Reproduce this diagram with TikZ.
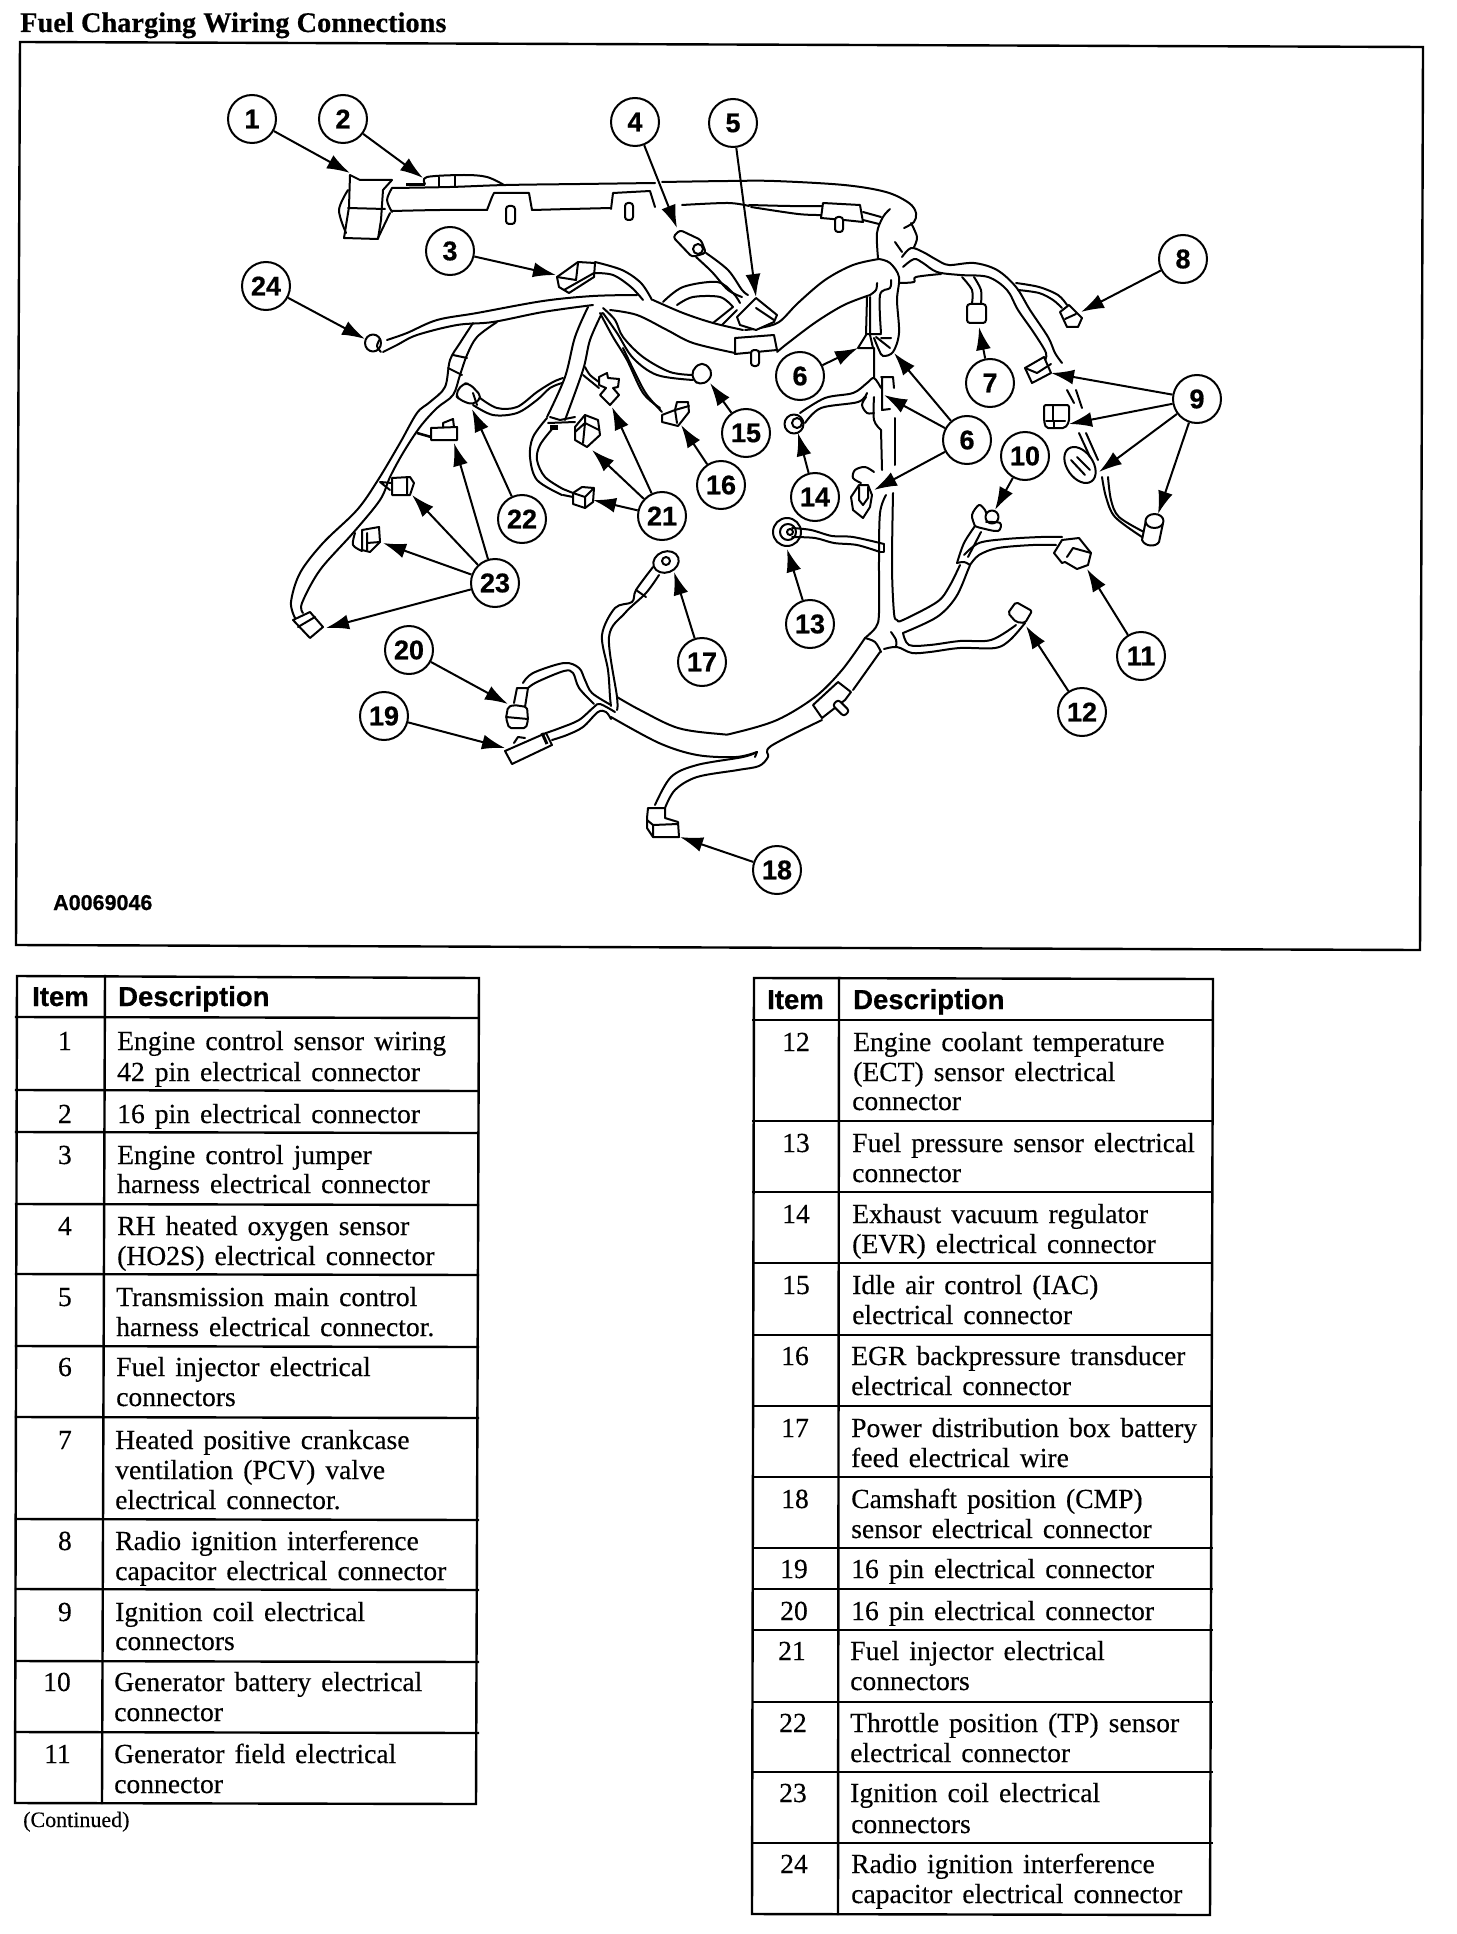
\documentclass[tikz,border=0pt]{standalone}
\usepackage{fontspec}
\usetikzlibrary{arrows.meta}
\setmainfont{Liberation Serif}
\newfontfamily\tabfont{Liberation Serif}[WordSpace=1.45,FakeBold=0.3]
\newfontfamily\titlefont{Liberation Serif}[BoldFeatures={FakeBold=0.4}]
\newfontfamily\headfont{Liberation Sans}[BoldFeatures={FakeBold=0.6}]
\newcounter{tx}
\tikzset{
  wl/.style={line width=2pt,line join=round,line cap=round},
  arr/.style={line width=2pt,-{Latex[length=23pt,width=15pt]}},
  callout/.style={circle,draw,line width=2pt,fill=white,minimum size=48pt,inner sep=0pt},
  calltext/.style={inner sep=0pt,font=\fontsize{27}{27}\selectfont\headfont\bfseries},
  tabtext/.style={anchor=base west,inner sep=0pt,font=\fontsize{27.6}{27.6}\selectfont\tabfont},
  tabnum/.style={anchor=base east,inner sep=0pt,font=\fontsize{27.6}{27.6}\selectfont\tabfont},
  headtext/.style={anchor=base west,inner sep=0pt,font=\fontsize{27.5}{27.5}\selectfont\headfont\bfseries},
  rule/.style={line width=2.4pt,line cap=rect}
}
\newcommand\lin[1]{\draw[wl] plot[smooth,tension=.55] coordinates {#1};}
\newcommand\tl[3]{\stepcounter{tx}\node[tabtext] (tx\arabic{tx}) at (#1,#2) {#3};}
\newcommand\tn[3]{\stepcounter{tx}\node[tabnum] (tx\arabic{tx}) at (#1,#2) {#3};}
\newcommand\hl[4]{\stepcounter{tx}\node[headtext] (tx\arabic{tx}) at (#1,#2) {#3};}
\newcommand\pin[4]{\draw[wl,fill=white,rounded corners=3pt] (#1,#2) rectangle (#3,#4);}
\newcommand\co[3]{\node[callout] (#1) at (#2,#3) {};}
\begin{document}
\begin{tikzpicture}[x=1pt,y=-1pt]
\fill[white] (0,0) rectangle (1456,1934);
\useasboundingbox (0,0) rectangle (1456,1934);
% title and frame
\node[anchor=base west,inner sep=0pt,font=\fontsize{28.4}{28.4}\selectfont\titlefont\bfseries] (title) at (20,32) {Fuel Charging Wiring Connections};
\draw[line width=2.4pt,line join=miter] (20,42) -- (1423,47) -- (1420,950) -- (16,945) -- cycle;
\node[anchor=base west,inner sep=0pt,font=\fontsize{21.5}{21.5}\selectfont\headfont\bfseries] (fig) at (53,910) {A0069046};

% --- top harness
\lin{(392,188) (450,187) (506,185) (580,184) (655,183)}
\lin{(662,182) (728,181) (774,181) (844,185) (886,192) (909,203) (916,213) (914,222) (904,228)}
\lin{(392,211) (440,210) (487,210)}
\lin{(532,210) (570,209) (611,208)}
\lin{(682,205) (728,203) (749,206)}
\lin{(751,207) (798,214) (821,215)}
\lin{(749,205) (790,206) (823,206)}
\lin{(863,212) (881,217)}
\lin{(863,220) (879,224)}
\lin{(890,209) (883,217) (877,233) (878,258)}
\lin{(911,223) (917,237) (914,247)}
\lin{(895,242) (902,252)}
% connector 1
\draw[wl,fill=white] (350,175) -- (360,180) -- (392,180) -- (383,190) -- (381,220) -- (378,239) -- (344,238) -- (349,207) -- cycle;
\lin{(348,190) (339,210) (346,233)}
\draw[wl] (348,208) -- (385,209);
\lin{(392,188) (387,200) (392,212)}
\draw[wl] (390,213) -- (378,238);
% connector 2
\lin{(425,184) (427,177) (464,175) (487,177) (504,185)}
\draw[line width=3pt] (406,185) -- (425,185);
\draw[wl] (439,177) -- (439,187) (455,176) -- (455,186);
% clips on top harness
\draw[wl,fill=white] (487,210) -- (492,197) -- (494,193) -- (529,193) -- (532,210);
\pin{506}{206}{515}{224}
\draw[wl,fill=white] (611,209) -- (613,193) -- (650,191) -- (655,207);
\pin{625}{203}{633}{220}
\draw[wl,fill=white] (821,218) -- (823,203) -- (860,205) -- (863,222) -- (844,220) -- cycle;
\pin{835}{217}{843}{232}

% --- second harness (middle)
\lin{(879,259) (853,265) (825,280) (798,303) (779,322) (760,328) (745,330)}
\lin{(879,259) (890,263) (899,277) (897,300) (899,333) (893,352) (883,356) (879,350) (874,338)}
\lin{(870,295) (844,305) (816,322) (788,343) (777,352)}
\lin{(877,283) (876,290) (870,295)}
\lin{(891,280) (890,288) (880,295) (881,333)}
% connector 6 top
\draw[wl,fill=white] (867,297) -- (866,335) -- (858,348) -- (873,348) -- (870,335) -- (870,297);
\draw[wl] (866,334) -- (881,334) (876,337) -- (890,348) (881,338) -- (891,338) (874,348) -- (874,378);
% clip
\draw[wl,fill=white] (735,338) -- (774,335) -- (777,350) -- (735,354) -- cycle;
\pin{751}{350}{759}{366}
% left harness
\lin{(653,300) (683,313) (713,323) (743,330)}
\lin{(610,310) (637,315) (667,330) (693,343) (735,353)}
\lin{(637,295) (593,296) (543,301) (477,313) (437,320) (407,333) (387,340)}
\lin{(593,305) (543,312) (493,322) (457,325) (417,335) (397,345) (383,352)}
\draw[wl,fill=white] (373,343) ellipse (8 and 8.5);
\lin{(380,339) (377,346) (381,352)}
% coil branch
\lin{(473,323) (460,343) (450,360) (445,387) (430,402) (417,413) (400,443) (378,480) (357,510) (323,543) (300,573) (291,602) (295,618)}
\lin{(497,322) (477,337) (467,355) (460,375) (453,395) (437,408) (420,427) (403,453) (390,477) (380,500) (353,533) (320,570) (302,603) (303,613)}
\draw[wl] (453,355) -- (467,358) (448,368) -- (462,375);
% connector 23 bottom
\draw[wl,fill=white] (293,620) -- (310,612) -- (323,627) -- (310,638) -- cycle;
\draw[wl] (298,627) -- (315,617);
% 23b
\draw[wl,fill=white] (431,428) -- (457,427) -- (457,440) -- (431,440) -- cycle;
\draw[wl] (443,427) -- (443,423) -- (453,419) -- (454,427);
\draw[line width=2.6pt] (417,433) -- (431,437);
% 23c
\draw[wl,fill=white] (392,478) -- (410,477) -- (414,483) -- (410,495) -- (392,495) -- cycle;
\draw[wl] (407,477) -- (407,494) (380,482) -- (392,483) (380,482) -- (390,490);
% 23d
\draw[wl,fill=white] (362,530) -- (379,527) -- (380,542) -- (370,552) -- (362,550) -- cycle;
\lin{(355,533) (353,545) (362,551)}
\draw[wl] (367,533) -- (367,550) (380,542) -- (367,543);
% connector 22
\draw[wl,fill=white,rounded corners=5pt] (455,395) -- (463,383) -- (470,384) -- (482,397) -- (473,405) -- (460,400) -- cycle;
\lin{(480,398) (497,408) (517,407) (537,392) (553,382) (563,378)}
\lin{(473,405) (493,415) (517,413) (537,400) (550,388) (562,383)}
\draw[wl] (473,393) -- (477,405);
% branch down to 21
\lin{(588,307) (575,337) (565,377) (547,417)}
\lin{(602,313) (590,340) (583,370) (565,420)}
\lin{(547,418) (533,437) (530,457) (537,480) (562,495)}
\lin{(553,428) (540,445) (537,460) (545,477) (563,489)}
\draw[wl] (550,417) -- (560,420) -- (575,417) (548,423) -- (575,422);
\fill (550,425) rectangle (558,430);
% 21b
\draw[wl,fill=white] (575,427) -- (585,415) -- (598,420) -- (600,435) -- (587,447) -- (575,440) -- cycle;
\draw[wl] (575,432) -- (585,423) -- (599,430) (585,415) -- (585,423) -- (583,443);
% 21c
\draw[wl,fill=white] (573,493) -- (582,487) -- (594,488) -- (593,502) -- (585,508) -- (573,504) -- cycle;
\draw[wl] (573,493) -- (585,497) -- (594,488) (585,497) -- (585,508) (563,489) -- (573,493) (563,495) -- (573,497);
% 21a
\draw[wl,fill=white] (599,377) -- (607,373) -- (608,378) -- (619,379) -- (618,387) -- (613,388) -- (619,395) -- (610,405) -- (600,395) -- (606,388) -- (599,385) -- cycle;
\lin{(585,367) (590,375) (599,382)}
\lin{(583,375) (599,388)}
% to 15 and 16
\lin{(603,308) (615,320) (623,337) (643,357) (670,372) (693,375)}
\lin{(603,313) (617,333) (633,358) (657,375) (693,380)}
\lin{(600,313) (613,337) (627,360) (643,393) (660,408)}
\lin{(623,348) (637,377) (647,395) (662,412)}
\draw[wl,fill=white,rounded corners=5pt] (692,370) -- (702,362) -- (712,370) -- (710,380) -- (700,385) -- (693,380) -- cycle;
\draw[wl,fill=white] (662,415) -- (675,410) -- (677,402) -- (688,402) -- (689,412) -- (678,426) -- (662,422) -- cycle;
\draw[wl] (677,423) -- (675,410) -- (689,406);
% connector 3
\draw[wl,fill=white] (557,277) -- (578,262) -- (595,263) -- (594,277) -- (569,293) -- (559,287) -- cycle;
\draw[wl] (578,263) -- (576,280) -- (557,277) (564,290) -- (594,273);
\lin{(595,262) (622,270) (641,283) (652,300)}
\lin{(594,273) (613,275) (631,287) (643,300)}
% arcs to 5
\lin{(663,302) (683,287) (717,282) (733,293) (740,303)}
\lin{(677,305) (693,297) (720,297) (733,307)}
\draw[wl] (713,323) -- (733,307) (722,325) -- (737,310);
\draw[wl,fill=white] (737,317) -- (756,298) -- (777,315) -- (774,322) -- (756,330) -- (740,325) -- cycle;
\draw[wl] (756,308) -- (774,320);
% connector 4
\draw[wl,fill=white,rounded corners=3pt] (673,237) -- (680,230) -- (701,240) -- (706,253) -- (692,257) -- cycle;
\draw[wl] (698,249) circle (5);
\lin{(706,253) (728,270) (742,290) (748,295)}
\lin{(696,257) (712,272) (728,290) (742,297)}

% --- right upper wires
\lin{(902,257) (911,248) (923,252) (937,260) (949,265) (974,263) (997,270) (1016,287) (1030,310) (1048,337) (1055,353) (1062,363)}
\lin{(903,267) (914,259) (923,263) (937,272) (960,275) (988,277) (1007,290) (1018,310) (1034,333) (1046,353) (1044,362)}
\lin{(900,283) (914,282) (916,277) (941,274)}
\lin{(962,277) (972,290) (972,303)}
\lin{(974,277) (981,290) (981,303)}
\draw[wl,fill=white,rounded corners=3pt] (967,304) rectangle (986,323);
\lin{(1016,283) (1039,287) (1058,295) (1067,305)}
\lin{(1018,290) (1039,293) (1053,300) (1062,308)}
\draw[wl,fill=white] (1060,312) -- (1069,305) -- (1082,318) -- (1078,327) -- (1067,327) -- cycle;
\draw[wl] (1065,319) -- (1076,314);
% 9a
\draw[wl,fill=white] (1025,368) -- (1044,357) -- (1051,373) -- (1032,383) -- cycle;
\draw[wl] (1025,368) -- (1037,373) -- (1051,364);
\draw[wl] (1067,390) -- (1074,403) (1076,390) -- (1082,408);
% 9b
\draw[wl,fill=white,rounded corners=2pt] (1044,405) -- (1069,405) -- (1069,422) -- (1065,428) -- (1046,428) -- (1044,421) -- cycle;
\draw[wl] (1053,406) -- (1053,421) (1046,421) -- (1065,421) (1054,421) -- (1054,428);
% 9c
\draw[wl,fill=white,rotate around={35:(1080,465)}] (1080,465) ellipse (13 and 20);
\draw[wl] (1071,460) -- (1085,475) (1077,457) -- (1090,470) (1079,433) -- (1090,457) (1086,433) -- (1098,460);
% 9d
\lin{(1102,477) (1106,497) (1115,517) (1142,537)}
\lin{(1108,477) (1111,500) (1119,517) (1144,532)}
\draw[wl,fill=white] (1146,520) -- (1142,540) .. controls (1145,547) and (1156,547) .. (1159,542) -- (1163,523) -- cycle;
\draw[wl,fill=white] (1154.5,521) ellipse (9 and 7);

% --- vertical trunk
\lin{(881,430) (882,470)}
\lin{(886,495) (880,513) (879,560) (879,613) (876,627) (865,638)}
\draw[wl] (895,418) -- (895,465);
\lin{(893,493) (892,567) (894,613) (897,620) (903,620) (937,602) (949,587) (960,565)}
\draw[wl] (882,378) -- (882,410) -- (890,409) (881,377) -- (893,377) -- (894,388);
% 14
\draw[wl,fill=white] (794,424) circle (9.5);
\draw[wl] (797,423) circle (5);
\lin{(800,413) (825,398) (853,393) (867,383) (874,378) (881,388)}
\lin{(805,423) (821,408) (858,402) (867,393)}
\lin{(866,397) (862,405) (867,413) (874,413)}
\lin{(874,397) (874,420) (881,430)}
% 6 low
\draw[wl,fill=white] (851,497) -- (859,485) -- (868,485) -- (872,495) -- (870,507) -- (863,518) -- (853,510) -- cycle;
\draw[wl] (859,487) -- (859,500) -- (863,505) -- (868,498) -- (868,487);
\lin{(861,483) (853,478) (855,470) (865,467) (874,472)}
% 13
\draw[wl,fill=white] (787,532) circle (14);
\draw[wl] (788,532) circle (8);
\draw[wl] (790,532) circle (3);
\lin{(792,528) (811,530) (832,536) (853,537) (884,544)}
\lin{(792,537) (815,538) (834,543) (857,545) (880,552)}
\draw[wl] (884,544) -- (884,552) -- (880,552);
% Y lower
\lin{(903,633) (937,617) (956,597) (968,570) (970,565)}
\lin{(903,633) (909,645) (930,645) (960,641) (991,640) (1016,625)}
\lin{(884,649) (897,647) (912,653) (930,652) (960,648) (995,648) (1010,640) (1025,623)}
\lin{(891,632) (896,640) (896,647)}
\lin{(865,638) (875,642) (881,652)}
\draw[wl,fill=white,rounded corners=2pt] (1008,613) -- (1016,602) -- (1032,611) -- (1025,623) -- (1016,622) -- cycle;
% 10
\lin{(957,563) (964,543) (975,526)}
\lin{(968,557) (981,532)}
\lin{(957,563) (964,562) (970,565)}
\lin{(975,526) (972,515) (979,505) (985,510) (986,513)}
\lin{(986,522) (1000,523) (998,531) (981,528) (975,526)}
\draw[wl] (992,517) circle (6.5);
% 11
\lin{(964,555) (979,543) (1006,539) (1041,537) (1062,537)}
\lin{(970,565) (979,555) (998,548) (1033,545) (1056,545)}
\draw[wl,fill=white] (1054,553) -- (1062,540) -- (1079,538) -- (1091,553) -- (1088,565) -- (1077,569) -- (1065,562) -- (1062,563) -- cycle;
\draw[wl] (1067,557) -- (1073,548) -- (1091,553);

% --- bottom trunk
\lin{(865,638) (842,670) (815,697) (777,720) (734,733) (720,734) (678,728) (640,710) (617,697)}
\lin{(880,652) (853,690)}
\lin{(822,720) (771,746) (768,757) (759,766) (738,770) (697,777) (675,790) (665,808)}
\lin{(757,752) (743,757) (697,765) (671,777) (655,805)}
\lin{(611,717) (659,743) (697,755) (736,757) (757,752)}
\draw[wl] (757,752) -- (755,757);
\draw[wl,fill=white] (813,705) -- (838,682) -- (851,692) -- (845,700) -- (822,718) -- cycle;
\draw[wl,fill=white,rotate around={-45:(841,708)},rounded corners=3pt] (833,704) rectangle (849,712);
% 18
\draw[wl,fill=white] (648,808) -- (665,808) -- (665,818) -- (678,822) -- (679,837) -- (653,837) -- (647,828) -- (647,818) -- cycle;
\draw[wl] (647,820) -- (653,825) -- (678,824) (653,825) -- (653,837);
% 17
\lin{(653,567) (636,590) (632,602) (615,608) (602,635) (608,670) (610,697) (611,706)}
\lin{(659,575) (646,593) (625,613) (609,637) (617,697) (617,710)}
\draw[wl] (636,590) -- (646,597);
\draw[wl,fill=white,rotate around={20:(666,562)}] (666,562) ellipse (13 and 10.5);
\draw[wl] (666,561) circle (4);
% 20
\draw[wl,fill=white,rounded corners=2pt] (506,718) -- (508,707) -- (514,705) -- (527,707) -- (528,720) -- (526,728) -- (509,728) -- cycle;
\draw[wl] (506,717) -- (528,719);
\draw[wl] (514,703) -- (517,688) -- (528,688) -- (525,707);
\lin{(523,683) (533,673) (564,663) (579,668) (585,680) (592,693) (611,705)}
\lin{(528,688) (537,682) (564,671) (573,673) (579,688) (594,704)}
% 19
\draw[wl,fill=white] (505,751) -- (546,733) -- (552,745) -- (512,764) -- cycle;
\draw[wl] (514,743) -- (518,737) -- (525,738);
\draw[line width=3pt] (542,733) -- (547,744);
\lin{(546,733) (560,728) (579,720) (594,707) (600,704) (615,712)}
\lin{(552,740) (567,735) (583,727) (598,712) (606,712) (611,719)}

% --- callouts
\co{c1}{252}{119} \co{c2}{343}{119} \co{c3}{450}{251} \co{c4}{635}{122} \co{c5}{733}{123}
\co{c6a}{800}{376} \co{c6b}{967}{440} \co{c7}{990}{383} \co{c8}{1183}{259} \co{c9}{1197}{399}
\co{c10}{1025}{456} \co{c11}{1141}{656} \co{c12}{1082}{712} \co{c13}{810}{624} \co{c14}{815}{497}
\co{c15}{746}{433} \co{c16}{721}{485} \co{c17}{702}{662} \co{c18}{777}{870} \co{c19}{384}{716}
\co{c20}{409}{650} \co{c21}{662}{516} \co{c22}{522}{519} \co{c23}{495}{583} \co{c24}{266}{286}
\foreach \n/\t in {c1/1,c2/2,c3/3,c4/4,c5/5,c6a/6,c6b/6,c7/7,c8/8,c9/9,c10/10,c11/11,c12/12,c13/13,c14/14,c15/15,c16/16,c17/17,c18/18,c19/19,c20/20,c21/21,c22/22,c23/23,c24/24}
  {\node[calltext] (lbl\n) at (\n) {\t};}
% tips
\coordinate (t1) at (350,173); \coordinate (t2) at (423,178); \coordinate (t3) at (556,275);
\coordinate (t4) at (677,228); \coordinate (t5) at (756,297); \coordinate (t6a) at (858,348);
\coordinate (t6b) at (894,353); \coordinate (t6c) at (884,395); \coordinate (t6d) at (874,490);
\coordinate (t7) at (979,327); \coordinate (t8) at (1081,312); \coordinate (t9a) at (1051,373);
\coordinate (t9b) at (1069,424); \coordinate (t9c) at (1099,472); \coordinate (t9d) at (1158,514);
\coordinate (t10) at (995,510); \coordinate (t11) at (1087,569); \coordinate (t12) at (1026,626);
\coordinate (t13) at (787,549); \coordinate (t14) at (798,433); \coordinate (t15) at (710,383);
\coordinate (t16) at (681,425); \coordinate (t17) at (674,572); \coordinate (t18) at (680,837);
\coordinate (t19) at (505,748); \coordinate (t20) at (508,704); \coordinate (t21a) at (612,407);
\coordinate (t21b) at (592,450); \coordinate (t21c) at (593,500); \coordinate (t22) at (472,409);
\coordinate (t23a) at (454,443); \coordinate (t23b) at (412,495); \coordinate (t23c) at (383,543);
\coordinate (t23d) at (326,628); \coordinate (t24) at (365,339);
\foreach \a/\b in {c1/t1,c2/t2,c3/t3,c4/t4,c5/t5,c6a/t6a,c6b/t6b,c6b/t6c,c6b/t6d,c7/t7,c8/t8,c9/t9a,c9/t9b,c9/t9c,c9/t9d,c10/t10,c11/t11,c12/t12,c13/t13,c14/t14,c15/t15,c16/t16,c17/t17,c18/t18,c19/t19,c20/t20,c21/t21a,c21/t21b,c21/t21c,c22/t22,c23/t23a,c23/t23b,c23/t23c,c23/t23d,c24/t24}
  {\draw[arr] (\a) -- (\b);}

% --- table 1
\draw[rule] (17,976) -- (479,978) -- (476,1804) -- (15,1803) -- cycle;
\draw[rule] (105,976) -- (102,1803);
\foreach \y in {1017,1090,1132,1204,1274,1346,1417,1519,1589,1661,1732}
  {\draw[rule] (16,\y) -- (478,\y+1);}
\hl{32}{1006}{Item}{}
\hl{118}{1006}{Description}{}
\tn{72}{1050}{1} \tl{117}{1050}{Engine control sensor wiring} \tl{117}{1081}{42 pin electrical connector}
\tn{72}{1123}{2} \tl{117}{1123}{16 pin electrical connector}
\tn{72}{1164}{3} \tl{117}{1164}{Engine control jumper} \tl{117}{1193}{harness electrical connector}
\tn{72}{1235}{4} \tl{117}{1235}{RH heated oxygen sensor} \tl{117}{1265}{(HO2S) electrical connector}
\tn{72}{1306}{5} \tl{116}{1306}{Transmission main control} \tl{116}{1336}{harness electrical connector.}
\tn{72}{1376}{6} \tl{116}{1376}{Fuel injector electrical} \tl{116}{1406}{connectors}
\tn{72}{1449}{7} \tl{115}{1449}{Heated positive crankcase} \tl{115}{1479}{ventilation (PCV) valve} \tl{115}{1509}{electrical connector.}
\tn{72}{1550}{8} \tl{115}{1550}{Radio ignition interference} \tl{115}{1580}{capacitor electrical connector}
\tn{72}{1621}{9} \tl{115}{1621}{Ignition coil electrical} \tl{115}{1650}{connectors}
\tn{71}{1691}{10} \tl{114}{1691}{Generator battery electrical} \tl{114}{1721}{connector}
\tn{71}{1763}{11} \tl{114}{1763}{Generator field electrical} \tl{114}{1793}{connector}
\node[anchor=base west,inner sep=0pt,font=\fontsize{22}{22}\selectfont\tabfont] (cont) at (23,1827) {(Continued)};

% --- table 2
\draw[rule] (754,978) -- (1213,979) -- (1210,1915) -- (752,1914) -- cycle;
\draw[rule] (839,978) -- (838,1914);
\foreach \y in {1020,1121,1192,1263,1335,1406,1477,1548,1589,1630,1702,1772,1843}
  {\draw[rule] (753,\y) -- (1212,\y);}
\hl{767}{1009}{Item}{}
\hl{853}{1009}{Description}{}
\tn{810}{1051}{12} \tl{853}{1051}{Engine coolant temperature} \tl{853}{1081}{(ECT) sensor electrical} \tl{852}{1110}{connector}
\tn{810}{1152}{13} \tl{852}{1152}{Fuel pressure sensor electrical} \tl{852}{1182}{connector}
\tn{810}{1223}{14} \tl{852}{1223}{Exhaust vacuum regulator} \tl{852}{1253}{(EVR) electrical connector}
\tn{810}{1294}{15} \tl{852}{1294}{Idle air control (IAC)} \tl{852}{1324}{electrical connector}
\tn{809}{1365}{16} \tl{851}{1365}{EGR backpressure transducer} \tl{851}{1395}{electrical connector}
\tn{809}{1437}{17} \tl{851}{1437}{Power distribution box battery} \tl{851}{1467}{feed electrical wire}
\tn{809}{1508}{18} \tl{851}{1508}{Camshaft position (CMP)} \tl{851}{1538}{sensor electrical connector}
\tn{808}{1578}{19} \tl{851}{1578}{16 pin electrical connector}
\tn{808}{1620}{20} \tl{851}{1620}{16 pin electrical connector}
\tn{806}{1660}{21} \tl{850}{1660}{Fuel injector electrical} \tl{850}{1690}{connectors}
\tn{807}{1732}{22} \tl{850}{1732}{Throttle position (TP) sensor} \tl{850}{1762}{electrical connector}
\tn{807}{1802}{23} \tl{850}{1802}{Ignition coil electrical} \tl{851}{1833}{connectors}
\tn{808}{1873}{24} \tl{851}{1873}{Radio ignition interference} \tl{851}{1903}{capacitor electrical connector}
\end{tikzpicture}
\end{document}
